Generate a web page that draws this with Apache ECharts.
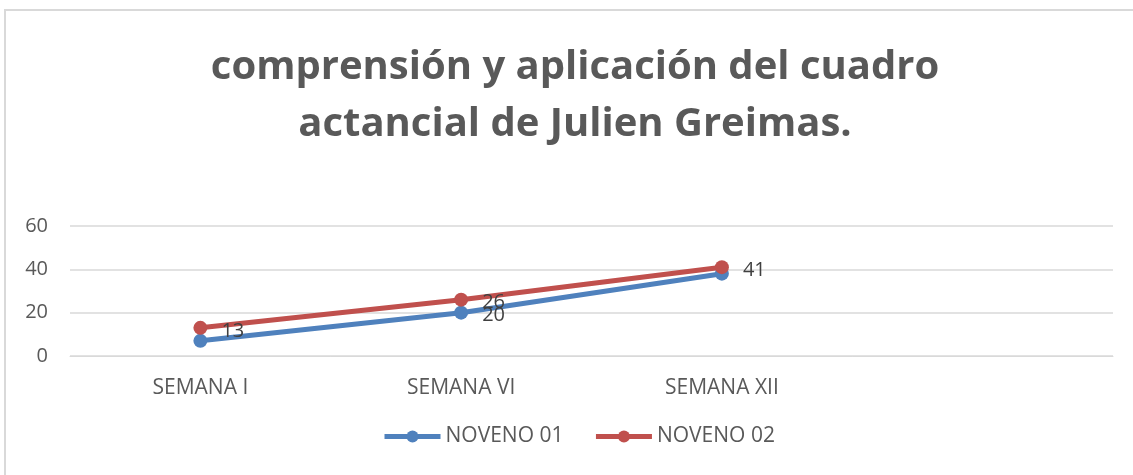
<!DOCTYPE html>
<html>
<head>
<meta charset="utf-8">
<script src="https://cdn.jsdelivr.net/npm/echarts@6/dist/echarts.min.js"></script>
<style>
  html, body { margin: 0; padding: 0; background: #fff; }
  #chart { width: 1133px; height: 475px; }
</style>
</head>
<body>
<div id="chart"></div>
<script>
// datos
var categories = ['SEMANA I', 'SEMANA VI', 'SEMANA XII', ''];
var noveno01 = [7, 20, 38];
var noveno02 = [13, 26, 41];
var yTicks = [0, 20, 40, 60];
var seriesNames = ['NOVENO 01', 'NOVENO 02'];

var textColor = '#595959';
var font = 'Open Sans';

var chart = echarts.init(document.getElementById('chart'));

// solo el 20 de noveno 01 se ve en el original
function itemsFor(values, visible) {
  return values.map(function (v, i) {
    return { value: v, label: { show: visible(i) } };
  });
}

chart.setOption({
  animation: false,
  backgroundColor: '#fff',
  graphic: [{
    type: 'polyline',
    shape: { points: [[5, 475], [5, 10], [1133, 10]] },
    style: { stroke: '#d9d9d9', lineWidth: 2, fill: null }
  }],
  title: {
    text: 'comprensión y aplicación del cuadro\nactancial de Julien Greimas.',
    left: 570,
    top: 34,
    textAlign: 'center',
    textStyle: {
      color: textColor,
      fontFamily: font,
      fontWeight: 'bold',
      fontSize: 40,
      lineHeight: 57
    }
  },
  legend: {
    data: seriesNames,
    bottom: 23,
    left: 377,
    itemWidth: 56,
    itemHeight: 15,
    itemGap: 30,
    itemStyle: { borderWidth: 0 },
    lineStyle: { width: 5 },
    textStyle: { color: textColor, fontFamily: font, fontSize: 21 }
  },
  grid: { left: 70, right: 20, top: 226, bottom: 119 },
  xAxis: {
    type: 'category',
    data: categories,
    boundaryGap: true,
    axisLine: { show: true, lineStyle: { color: '#d9d9d9', width: 1 } },
    axisTick: { show: false },
    axisLabel: { color: textColor, fontFamily: font, fontSize: 21, margin: 22 }
  },
  yAxis: {
    type: 'value',
    min: yTicks[0],
    max: yTicks[yTicks.length - 1],
    interval: 20,
    axisLine: { show: false },
    axisTick: { show: false },
    axisLabel: { color: textColor, fontFamily: font, fontSize: 20, margin: 22 },
    splitLine: { lineStyle: { color: '#d9d9d9', width: 1.5 } }
  },
  series: [{
    name: seriesNames[0],
    type: 'line',
    data: itemsFor(noveno01, function (i) { return i === 1; }),
    color: '#4f81bd',
    lineStyle: { width: 5 },
    symbol: 'circle',
    symbolSize: 14,
    label: {
      position: 'right',
      distance: 14,
      offset: [0, 3],
      color: '#404040',
      fontFamily: font,
      fontSize: 20
    }
  }, {
    name: seriesNames[1],
    type: 'line',
    data: itemsFor(noveno02, function () { return true; }),
    color: '#c0504d',
    lineStyle: { width: 5 },
    symbol: 'circle',
    symbolSize: 14,
    label: {
      position: 'right',
      distance: 14,
      offset: [0, 3],
      color: '#404040',
      fontFamily: font,
      fontSize: 20
    }
  }]
});
</script>
</body>
</html>
